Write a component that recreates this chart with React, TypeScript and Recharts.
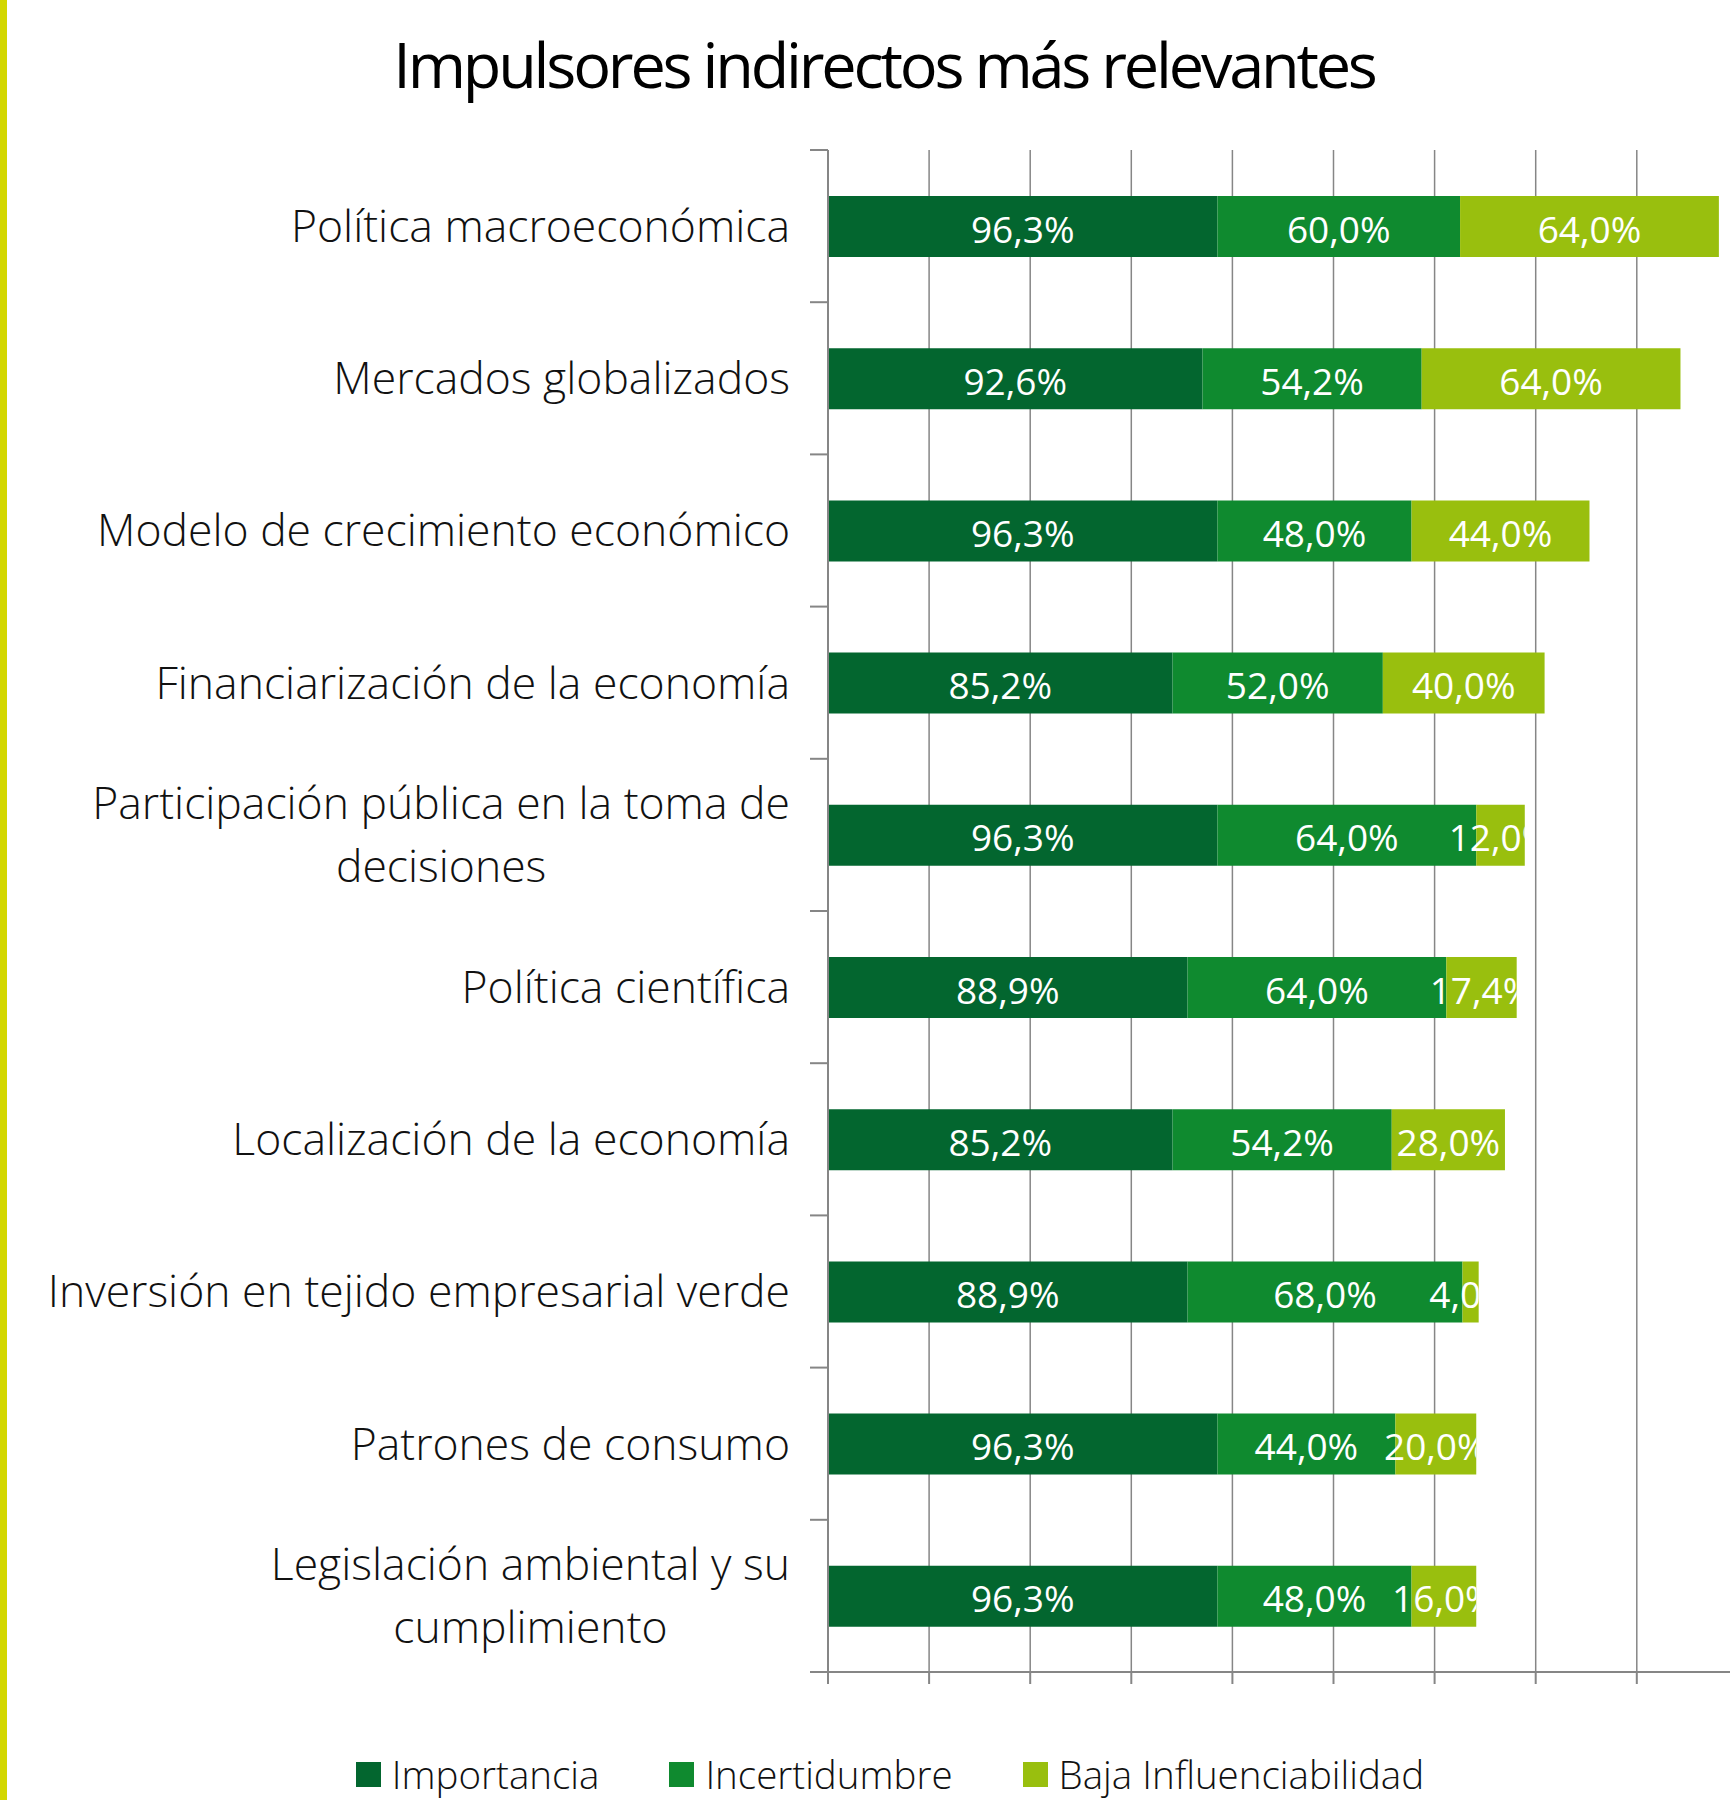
import React from 'react';
import { BarChart, Bar, XAxis, YAxis, CartesianGrid, LabelList, Legend } from 'recharts';

const title = 'Impulsores indirectos más relevantes';
const categories = [
  'Política macroeconómica',
  'Mercados globalizados',
  'Modelo de crecimiento económico',
  'Financiarización de la economía',
  'Participación pública en la toma de\ndecisiones',
  'Política científica',
  'Localización de la economía',
  'Inversión en tejido empresarial verde',
  'Patrones de consumo',
  'Legislación ambiental y su\ncumplimiento',
];
const importancia = [96.3, 92.6, 96.3, 85.2, 96.3, 88.9, 85.2, 88.9, 96.3, 96.3];
const incertidumbre = [60.0, 54.2, 48.0, 52.0, 64.0, 64.0, 54.2, 68.0, 44.0, 48.0];
const bajaInfluenciabilidad = [64.0, 64.0, 44.0, 40.0, 12.0, 17.4, 28.0, 4.0, 20.0, 16.0];
const seriesNames = ['Importancia', 'Incertidumbre', 'Baja Influenciabilidad'];
const seriesKeys = ['imp', 'inc', 'baja'];
const seriesColors = ['#03662F', '#0F8A2F', '#99BF0E'];
const xTicks = [0, 25, 50, 75, 100, 125, 150, 175, 200, 225, 250];

const data = categories.map((name, i) => ({
  name,
  imp: importancia[i],
  inc: incertidumbre[i],
  baja: bajaInfluenciabilidad[i],
}));

const FONT = "'Open Sans', 'Noto Sans', sans-serif";
const AXIS_COLOR = '#868686';
const CAT_FS = 44.5;
const CAT_LH = 63;
const LABEL_FS = 37;
const TICK_GAP = 38;
const TICK_LEN = 18;

let ctx: CanvasRenderingContext2D | null = null;
const measure = (s: string, font: string) => {
  if (!ctx) ctx = document.createElement('canvas').getContext('2d');
  if (!ctx) return s.length * 20;
  ctx.font = font;
  return ctx.measureText(s).width;
};

const CategoryTick = (props: any) => {
  const { x, y, payload, index, visibleTicksCount, height } = props;
  const n = visibleTicksCount || categories.length;
  const band = (height || 1522) / n;
  const axisX = x + TICK_GAP;
  const lines = String(payload.value).split('\n');
  const font = `300 ${CAT_FS}px 'Open Sans'`;
  const widths = lines.map((l) => measure(l, font));
  const blockW = Math.max(...widths);
  const cx = x - blockW / 2;
  const firstBase = y - ((lines.length - 1) * CAT_LH) / 2 + CAT_FS * 0.357;
  return (
    <g>
      <line x1={axisX - TICK_LEN} x2={axisX} y1={y - band / 2} y2={y - band / 2} stroke={AXIS_COLOR} strokeWidth={2} />
      {index === n - 1 && (
        <line x1={axisX - TICK_LEN} x2={axisX} y1={y + band / 2} y2={y + band / 2} stroke={AXIS_COLOR} strokeWidth={2} />
      )}
      {lines.map((l, i) => (
        <text key={i} x={cx} y={firstBase + i * CAT_LH} textAnchor="middle" fill="#111" fontSize={CAT_FS} fontWeight={300} fontFamily={FONT}>
          {l}
        </text>
      ))}
    </g>
  );
};

const fmt = (v: number) => v.toFixed(1).replace('.', ',') + '%';

const makeLabel = (clip: boolean, prefix: string) => (props: any) => {
  const { x, y, width, height, value, index } = props;
  const cx = x + width / 2;
  const by = y + height / 2 + 16;
  const t = (
    <text x={cx} y={by} textAnchor="middle" fill="#ffffff" fontSize={LABEL_FS} fontFamily={FONT}
      clipPath={clip ? `url(#${prefix}-${index})` : undefined}>
      {fmt(Number(value))}
    </text>
  );
  if (!clip) return t;
  return (
    <g>
      <defs>
        <clipPath id={`${prefix}-${index}`}>
          <rect x={x - 400} y={y} width={width + 400} height={height} />
        </clipPath>
      </defs>
      {t}
    </g>
  );
};

const LegendContent = () => (
  <div style={{ display: 'flex', justifyContent: 'center', alignItems: 'center', height: 40, fontFamily: FONT, fontWeight: 300, fontSize: 38.5, color: '#111' }}>
    {seriesNames.map((s, i) => (
      <div key={s} style={{ display: 'flex', alignItems: 'center', marginLeft: i === 0 ? 0 : 70 }}>
        <div style={{ width: 25, height: 25, background: seriesColors[i], marginRight: 11 }} />
        <span style={{ lineHeight: '40px', whiteSpace: 'nowrap' }}>{s}</span>
      </div>
    ))}
  </div>
);

export default function App() {
  return (
    <div style={{ position: 'absolute', left: 0, top: 0, width: 1730, height: 1800, overflow: 'hidden', background: '#fff' }}>
      <div style={{ position: 'absolute', left: 0, top: 0, width: 7, height: 1800, background: '#D3D700' }} />
      <div style={{ position: 'absolute', left: 0, top: 32, width: 1768, textAlign: 'center', fontFamily: FONT, fontSize: 63, lineHeight: '63px', letterSpacing: -3.2, color: '#000' }}>
        {title}
      </div>
      <BarChart
        width={1900}
        height={1800}
        data={data}
        layout="vertical"
        margin={{ top: 150, right: 61, bottom: 98, left: 0 }}
        style={{ position: 'absolute', left: 0, top: 0 }}
      >
        <CartesianGrid horizontal={false} vertical={true} stroke={AXIS_COLOR} strokeWidth={1.5} />
        <XAxis
          type="number"
          domain={[0, 250]}
          ticks={xTicks}
          interval={0}
          tickSize={12}
          tickLine={{ stroke: AXIS_COLOR, strokeWidth: 2 }}
          axisLine={{ stroke: AXIS_COLOR, strokeWidth: 2 }}
          tickFormatter={() => ''}
          height={30}
        />
        <YAxis
          type="category"
          dataKey="name"
          width={828}
          interval={0}
          tickLine={false}
          tickSize={0}
          tickMargin={TICK_GAP}
          axisLine={{ stroke: AXIS_COLOR, strokeWidth: 2 }}
          tick={<CategoryTick />}
        />
        <Legend
          layout="horizontal"
          verticalAlign="middle"
          align="center"
          content={<LegendContent />}
          wrapperStyle={{ top: 1754, left: 0, width: 1780, height: 40 }}
        />
        {seriesKeys.map((k, i) => (
          <Bar key={k} dataKey={k} name={seriesNames[i]} stackId="a" fill={seriesColors[i]} barSize={61} isAnimationActive={false}>
            <LabelList dataKey={k} content={makeLabel(i === seriesKeys.length - 1, 'clip-' + k)} />
          </Bar>
        ))}
      </BarChart>
    </div>
  );
}
